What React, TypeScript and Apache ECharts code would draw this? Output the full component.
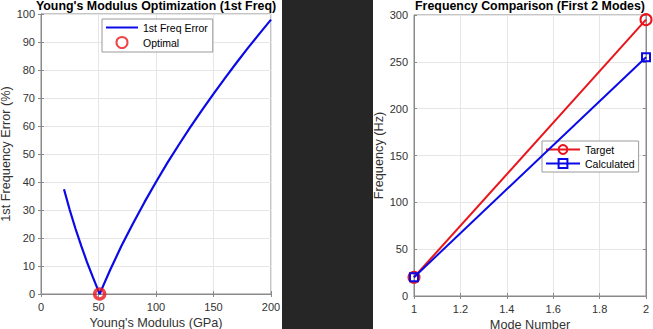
import React, { useEffect, useRef } from "react";
import * as echarts from "echarts";

// ---- Data ----
const modulusGPa = [20, 25, 30, 35, 40, 45, 50, 51, 55, 60, 70, 80, 90, 100, 110, 120, 130, 140, 150, 160, 170, 180, 190, 200];
const freqErrorPct = [37.4, 30.0, 23.3, 17.2, 11.4, 6.1, 1.0, 0.0, 3.8, 8.5, 17.2, 25.2, 32.8, 40.0, 46.9, 53.4, 59.7, 65.7, 71.5, 77.1, 82.6, 87.9, 93.0, 98.0];
const optimalModulus = [51];
const optimalError = [0];

const modeNumbers = [1, 2];
const targetHz = [20, 295];
const calculatedHz = [20, 255];

const leftXTicks = { min: 0, max: 200, interval: 50 };
const leftYTicks = { min: 0, max: 100, interval: 10 };
const rightXTicks = { min: 1, max: 2, interval: 0.2 };
const rightYTicks = { min: 0, max: 300, interval: 50 };

const FONT = "'Liberation Sans', Arial, Helvetica, sans-serif";
const BLUE = "#0a0ae6";
const RED = "#e8161c";
const AXIS = "#8a8a8a";
const LABEL = "#333333";
const GRIDLINE = "#e6e6e6";

function mainAxis(gridIndex: number, pos: string, t: any, name: string, nameGap: number, margin: number) {
  return {
    type: "value",
    gridIndex,
    position: pos,
    min: t.min,
    max: t.max,
    interval: t.interval,
    name,
    nameLocation: "middle",
    nameGap,
    nameTextStyle: { fontSize: 12.7, lineHeight: 13, color: LABEL, fontFamily: FONT },
    axisLine: { show: true, lineStyle: { color: AXIS, width: 1 } },
    axisTick: { show: true, inside: true, length: 3, lineStyle: { color: AXIS } },
    axisLabel: { fontSize: 11, color: LABEL, fontFamily: FONT, margin },
    splitLine: { show: true, lineStyle: { color: GRIDLINE, width: 1 } },
  };
}

function mirrorAxis(gridIndex: number, pos: string, t: any) {
  return {
    type: "value",
    gridIndex,
    position: pos,
    min: t.min,
    max: t.max,
    interval: t.interval,
    axisLine: { show: true, lineStyle: { color: AXIS, width: 1 } },
    axisTick: { show: true, inside: true, length: 3, lineStyle: { color: AXIS } },
    axisLabel: { show: false },
    splitLine: { show: false },
  };
}

export default function App() {
  const ref = useRef<HTMLDivElement>(null);

  useEffect(() => {
    if (!ref.current) return;
    const chart = echarts.init(ref.current, null, { renderer: "svg" });

    const errorLine = modulusGPa.map((x, i) => [x, freqErrorPct[i]]);
    const optimalPts = optimalModulus.map((x, i) => [x, optimalError[i]]);
    const targetPts = modeNumbers.map((x, i) => [x, targetHz[i]]);
    const calcPts = modeNumbers.map((x, i) => [x, calculatedHz[i]]);

    const titleStyle = { fontSize: 12.4, fontWeight: "bold", color: "#000", fontFamily: FONT };

    const option: any = {
      animation: false,
      backgroundColor: "#ffffff",
      textStyle: { fontFamily: FONT },
      title: [
        {
          text: "Young's Modulus Optimization (1st Freq)",
          left: 156,
          top: 0,
          textAlign: "center",
          padding: 0,
          textStyle: titleStyle,
        },
        {
          text: "Frequency Comparison (First 2 Modes)",
          left: 530,
          top: 0,
          textAlign: "center",
          padding: 0,
          textStyle: titleStyle,
        },
      ],
      grid: [
        { left: 41, top: 14, width: 230, height: 280, show: true, borderColor: AXIS, borderWidth: 1, backgroundColor: "transparent", containLabel: false, outerBoundsMode: "none" },
        { left: 414, top: 15, width: 232, height: 281, show: true, borderColor: AXIS, borderWidth: 1, backgroundColor: "transparent", containLabel: false, outerBoundsMode: "none" },
      ],
      xAxis: [
        mainAxis(0, "bottom", leftXTicks, "Young's Modulus (GPa)", 22, 7),
        mirrorAxis(0, "top", leftXTicks),
        mainAxis(1, "bottom", rightXTicks, "Mode Number", 20, 7),
        mirrorAxis(1, "top", rightXTicks),
      ],
      yAxis: [
        mainAxis(0, "left", leftYTicks, "1st Frequency Error (%)", 28, 6),
        mirrorAxis(0, "right", leftYTicks),
        mainAxis(1, "left", rightYTicks, "Frequency (Hz)", 27, 6),
        mirrorAxis(1, "right", rightYTicks),
      ],
      legend: [
        {
          data: [
            { name: "1st Freq Error", icon: "path://M0,0 L32,0 L32,2 L0,2 Z" },
            { name: "Optimal" },
          ],
          orient: "vertical",
          left: 102,
          top: 19,
          padding: [3, 5, 3, 4],
          itemGap: 3,
          itemWidth: 32,
          itemHeight: 11,
          backgroundColor: "#ffffff",
          borderColor: "#9a9a9a",
          borderWidth: 1,
          borderRadius: 0,
          textStyle: { fontSize: 10.5, color: "#000", fontFamily: FONT },
        },
        {
          data: ["Target", "Calculated"],
          orient: "vertical",
          left: 542,
          top: 141,
          padding: [3, 4, 3, 3],
          itemGap: 3,
          itemWidth: 34,
          itemHeight: 11,
          backgroundColor: "#ffffff",
          borderColor: "#9a9a9a",
          borderWidth: 1,
          borderRadius: 0,
          textStyle: { fontSize: 10.5, color: "#000", fontFamily: FONT },
        },
      ],
      graphic: [
        {
          type: "rect",
          shape: { x: 282, y: 0, width: 91, height: 329 },
          style: { fill: "#262626" },
          z: 100,
        },
      ],
      series: [
        {
          name: "1st Freq Error",
          type: "line",
          xAxisIndex: 0,
          yAxisIndex: 0,
          data: errorLine,
          symbol: "none",
          clip: false,
          lineStyle: { color: BLUE, width: 2.2 },
          itemStyle: { color: BLUE },
          z: 3,
        },
        {
          name: "Optimal",
          type: "scatter",
          xAxisIndex: 0,
          yAxisIndex: 0,
          data: optimalPts,
          symbol: "circle",
          symbolSize: 10,
          clip: false,
          itemStyle: { color: "transparent", borderColor: RED, borderWidth: 3.5 },
          z: 4,
        },
        {
          name: "Target",
          type: "line",
          xAxisIndex: 2,
          yAxisIndex: 2,
          data: targetPts,
          symbol: "circle",
          symbolSize: 11,
          showSymbol: true,
          clip: false,
          lineStyle: { color: RED, width: 2 },
          itemStyle: { color: "transparent", borderColor: RED, borderWidth: 2 },
          z: 3,
        },
        {
          name: "Calculated",
          type: "line",
          xAxisIndex: 2,
          yAxisIndex: 2,
          data: calcPts,
          symbol: "rect",
          symbolSize: 8,
          showSymbol: true,
          clip: false,
          lineStyle: { color: BLUE, width: 2 },
          itemStyle: { color: "transparent", borderColor: BLUE, borderWidth: 2 },
          z: 4,
        },
      ],
    };

    chart.setOption(option);
    return () => chart.dispose();
  }, []);

  return (
    <div
      ref={ref}
      style={{ position: "fixed", left: 0, top: 0, width: 653, height: 329, background: "#fff" }}
    />
  );
}
